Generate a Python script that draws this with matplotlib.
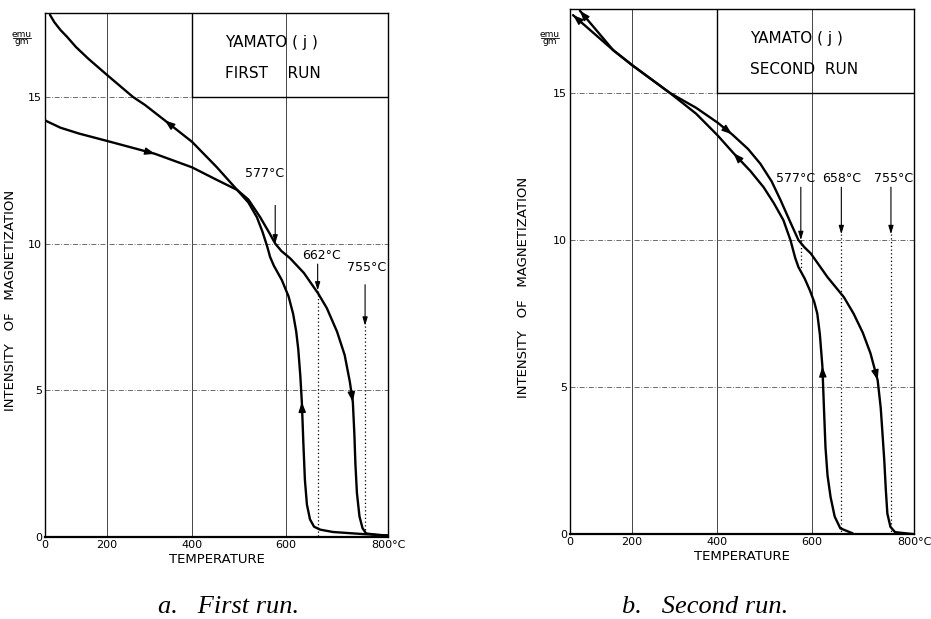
"""Thermomagnetic curves of Yamato (j): first and second heating/cooling runs."""
import matplotlib
matplotlib.use("Agg")
import matplotlib.pyplot as plt
import numpy as np

# the original axis is not linear in temperature: grid lines sit at these pixel offsets
TICK_T = [0, 200, 400, 600, 800]
TICK_POS = [0, 62, 147, 241, 343]
TICK_LABELS = ["0", "200", "400", "600", "800°C"]
Y_TICKS = [0, 5, 10, 15]

# ---- first run ----
run1_heat_t = [0, 50, 110, 200, 313, 400, 453, 496, 520, 545, 565, 577, 590, 608, 635, 663,
               680, 700, 715, 725, 731, 734, 736, 739, 744, 750, 757, 780, 800]
run1_heat_m = [14.2, 13.95, 13.75, 13.5, 13.06, 12.6, 12.17, 11.83, 11.5, 10.9, 10.35, 10.0,
               9.75, 9.5, 9.0, 8.3, 7.8, 7.0, 6.2, 5.3, 4.6, 3.5, 2.5, 1.5, 0.7, 0.3, 0.12,
               0.07, 0.05]
run1_cool_t = [16, 30, 50, 71, 100, 140, 200, 261, 289, 336, 400, 453, 496, 520, 538, 550,
               560, 566, 574, 591, 605, 614, 620, 624, 628, 631, 634, 637, 641, 647, 655, 667,
               692, 750, 800]
run1_cool_m = [17.8, 17.55, 17.28, 17.05, 16.7, 16.3, 15.75, 15.0, 14.73, 14.2, 13.47, 12.6,
               11.83, 11.4, 10.9, 10.4, 9.9, 9.55, 9.25, 8.76, 8.2, 7.6, 7.0, 6.4, 5.5, 4.6,
               3.2, 1.95, 1.1, 0.6, 0.35, 0.25, 0.17, 0.1, 0.05]
run1_curie = [577, 662, 755]
run1_curie_top = [11.3, 9.3, 8.6]
run1_curie_tip = [10.0, 8.4, 7.2]
run1_dot_end = [10.0, 0.0, 0.0]
run1_label_t = [555, 670, 757]
run1_label_m = [12.4, 9.6, 9.2]

# ---- second run ----
run2_heat_t = [32, 139, 200, 289, 350, 400, 431, 465, 491, 515, 534, 555, 572, 585, 598,
               631, 663, 682, 700, 715, 729, 735, 738, 742, 745, 748, 754, 763, 800]
run2_heat_m = [17.8, 16.46, 15.95, 15.0, 14.5, 14.0, 13.6, 13.1, 12.6, 12.0, 11.36, 10.6,
               10.0, 9.75, 9.55, 8.74, 8.06, 7.5, 6.85, 6.15, 5.24, 4.3, 3.54, 2.5, 1.5, 0.7,
               0.25, 0.07, 0.0]
run2_cool_t = [10, 139, 200, 289, 350, 400, 434, 470, 498, 520, 540, 555, 565, 572, 585,
               596, 605, 611, 616, 621, 624, 627, 631, 637, 645, 656, 680]
run2_cool_m = [17.65, 16.46, 15.95, 15.0, 14.3, 13.57, 12.96, 12.35, 11.8, 11.25, 10.68,
               10.0, 9.4, 9.08, 8.7, 8.3, 7.9, 7.5, 6.8, 5.7, 4.3, 2.96, 2.0, 1.26, 0.6, 0.2,
               0.03]
run2_curie = [577, 658, 755]
run2_curie_top = [11.8, 11.8, 11.8]
run2_curie_tip = [10.0, 10.2, 10.2]
run2_dot_end = [9.0, 0.0, 0.0]
run2_label_t = [566, 658, 760]
run2_label_m = [12.1, 12.1, 12.1]

# (curve index, temperature at arrow tip, +1 forward along list / -1 backward)
run1_arrows = [(0, 313, 1), (1, 336, -1), (0, 731, 1), (1, 631, -1)]
run2_arrows = [(0, 431, 1), (1, 434, -1), (0, 729, 1), (1, 621, -1),
               (0, 32, -1), (1, 10, -1)]

FONT = "DejaVu Sans"


def fwd(t):
    return np.interp(t, TICK_T, TICK_POS)


def inv(p):
    return np.interp(p, TICK_POS, TICK_T)


def arrow_on(ax, t, m, tip_t, direction):
    t = np.asarray(t, float)
    m = np.asarray(m, float)
    i = int(np.argmin(np.abs(t - tip_t)))
    j = i - direction if 0 <= i - direction < len(t) else i + direction
    tip = (t[i], m[i])
    tail = (t[j], m[j])
    # shorten tail so only the head shows
    p_tip = np.array([fwd(tip[0]), tip[1] * 20])
    p_tail = np.array([fwd(tail[0]), tail[1] * 20])
    d = p_tail - p_tip
    d = d / np.hypot(*d) * 6
    q = p_tip + d
    ax.annotate("", xy=tip, xytext=(inv(q[0]), q[1] / 20),
                arrowprops=dict(arrowstyle="-|>,head_length=0.6,head_width=0.22",
                                color="black", lw=1.0, shrinkA=0, shrinkB=0))


def panel(ax, heat, cool, curie, tops, tips, dot_end, lab_t, lab_m, arrows, run_name,
          ylab_xy, emu_xy):
    ax.set_xscale("function", functions=(fwd, inv))
    ax.set_xlim(0, 800)
    ax.set_ylim(0, 17.86)
    ax.set_xticks(TICK_T)
    ax.set_xticklabels(TICK_LABELS, fontsize=8, family=FONT)
    ax.set_yticks(Y_TICKS)
    ax.set_yticklabels([str(v) for v in Y_TICKS], fontsize=8, family=FONT)
    ax.tick_params(length=0, pad=2)
    for s in ax.spines.values():
        s.set_linewidth(1.0)
    ax.spines["bottom"].set_linewidth(1.6)

    for t in TICK_T[1:-1]:
        ax.axvline(t, color="#444", lw=0.7, zorder=1)
    for v in Y_TICKS[1:]:
        ax.axhline(v, color="#555", lw=0.6, ls=(0, (6, 2, 1, 2)), zorder=1)

    # title box in the upper right corner
    ax.plot([400, 800], [15, 15], color="black", lw=1.0, zorder=2)
    ax.plot([400, 400], [15, 17.86], color="black", lw=1.0, zorder=2)
    ax.text(470, 16.85, "YAMATO ( j )", fontsize=11, family=FONT, va="center")
    ax.text(470, 15.8, run_name, fontsize=11, family=FONT, va="center")

    curves = [heat, cool]
    for t, m in curves:
        ax.plot(t, m, color="black", lw=1.7, zorder=3, solid_joinstyle="round",
                solid_capstyle="round")

    for c, top, tip, end, lt, lm in zip(curie, tops, tips, dot_end, lab_t, lab_m):
        ax.annotate("", xy=(c, tip), xytext=(c, top),
                    arrowprops=dict(arrowstyle="-|>,head_length=0.5,head_width=0.15",
                                    color="black", lw=0.8, shrinkA=0, shrinkB=0))
        if end < tip:
            ax.plot([c, c], [tip, end], color="black", lw=0.9, ls=(0, (1, 2)), zorder=2)
        ax.text(lt, lm, f"{c}°C", fontsize=9, family=FONT, ha="center", va="center")

    for k, tt, d in arrows:
        arrow_on(ax, curves[k][0], curves[k][1], tt, d)

    ax.set_xlabel("TEMPERATURE", fontsize=9.5, family=FONT, labelpad=2)
    ax.set_ylabel("INTENSITY   OF   MAGNETIZATION", fontsize=9.5, family=FONT)
    ax.yaxis.set_label_coords(*ylab_xy)
    ax.text(emu_xy[0], emu_xy[1], "emu\ngm", transform=ax.transAxes, fontsize=6.5,
            family=FONT, ha="center", va="center", linespacing=0.75)
    ax.plot([emu_xy[0] - 0.025, emu_xy[0] + 0.025], [emu_xy[1], emu_xy[1]],
            transform=ax.transAxes, color="black", lw=0.6, clip_on=False)


fig = plt.figure(figsize=(9.31, 6.19), dpi=100)
ax1 = fig.add_axes([0.0483, 0.1325, 0.3685, 0.8465])
ax2 = fig.add_axes([0.6122, 0.137, 0.3695, 0.8485])

panel(ax1, (run1_heat_t, run1_heat_m), (run1_cool_t, run1_cool_m), run1_curie,
      run1_curie_top, run1_curie_tip, run1_dot_end, run1_label_t, run1_label_m,
      run1_arrows, "FIRST    RUN", (-0.082, 0.452), (-0.067, 0.952))
panel(ax2, (run2_heat_t, run2_heat_m), (run2_cool_t, run2_cool_m), run2_curie,
      run2_curie_top, run2_curie_tip, run2_dot_end, run2_label_t, run2_label_m,
      run2_arrows, "SECOND  RUN", (-0.116, 0.47), (-0.058, 0.945))

fig.text(0.245, 0.01, "a.   First run.", fontsize=19, family="Liberation Serif",
         style="italic", ha="center")
fig.text(0.757, 0.01, "b.   Second run.", fontsize=19, family="Liberation Serif",
         style="italic", ha="center")

fig.savefig("out.png", dpi=100)
